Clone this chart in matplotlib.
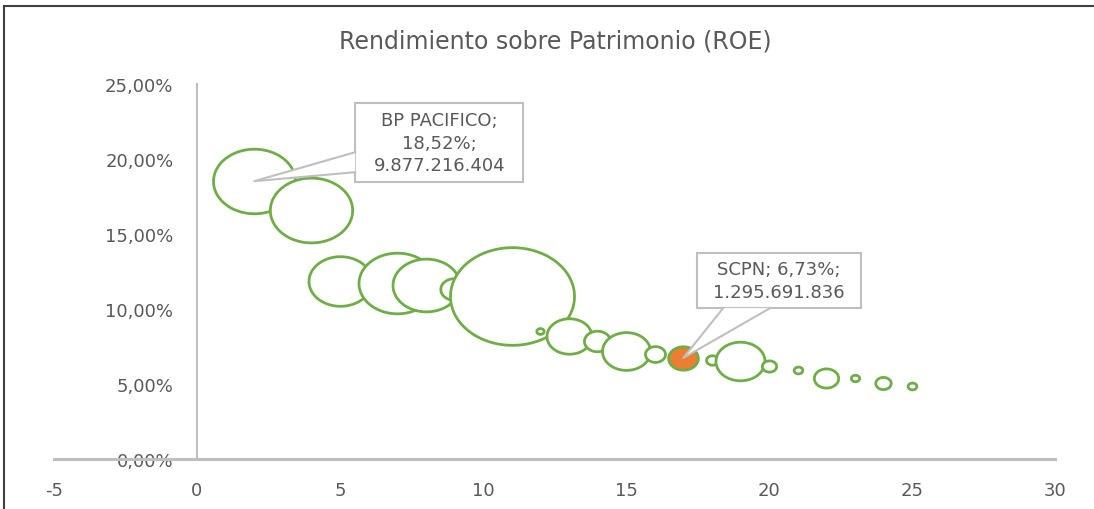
import matplotlib
matplotlib.use("Agg")
import matplotlib.pyplot as plt
import numpy as np
from matplotlib.lines import Line2D
from matplotlib.path import Path
from matplotlib.patches import Polygon, Rectangle
from matplotlib.ticker import FuncFormatter
from matplotlib.transforms import ScaledTranslation

# ranking position, ROE and equity (bubble size)
rank = [2, 4, 5, 7, 8, 9, 11, 12, 13, 14, 15, 16, 17, 18, 19, 20, 21, 22, 23, 24, 25]
roe = [0.1852, 0.1660, 0.1187, 0.1173, 0.1163, 0.1133, 0.1090, 0.0853, 0.0817, 0.0790, 0.0720,
       0.0703, 0.0673, 0.0657, 0.0653, 0.0620, 0.0593, 0.0543, 0.0543, 0.0507, 0.0490]
patrimonio = [9877216404, 9950000000, 5830000000, 8710000000, 6590000000, 1100000000, 22600000000,
              80000000, 2970000000, 1000000000, 3380000000, 590000000, 1295691836, 210000000,
              3530000000, 300000000, 110000000, 870000000, 100000000, 350000000, 110000000]
labeled = {2: "BP PACIFICO", 17: "SCPN"}
highlight = "SCPN"

GREEN = "#70AD47"
ORANGE = "#ED7D31"
TEXT = "#595959"
AXIS = "#BFBFBF"
DPI = 100

plt.rcParams["axes.unicode_minus"] = False


def fmt_pct(v):
    return f"{v * 100:.2f}%".replace(".", ",")


def fmt_int(v):
    return f"{v:,.0f}".replace(",", ".")


fig = plt.figure(figsize=(10.94, 5.10), dpi=DPI)
ax = fig.add_axes([54 / 1094, 50 / 510, 1001 / 1094, 375 / 510])

# ellipse marker (the source picture is stretched horizontally)
theta = np.linspace(0, 2 * np.pi, 120)
ellipse = Path(np.column_stack([1.27 * np.cos(theta), np.sin(theta)]))

# bubble area proportional to equity; largest reference bubble ~41 px radius
ref_r_pt = 41 * 72 / DPI
k = (2 * ref_r_pt) ** 2 / patrimonio[0]
sizes = [p * k for p in patrimonio]
faces = [ORANGE if labeled.get(r) == highlight else "white" for r in rank]

for xi, yi, si, fc in zip(rank, roe, sizes, faces):
    ax.scatter(xi, yi, s=si, marker=ellipse, facecolors=fc, edgecolors=GREEN,
               linewidths=2.0, zorder=3, clip_on=False)

# callouts: box and tail given in pixel offsets from the bubble centre
callouts = {
    2: dict(box=(101, -1, 168, 79), tail=[(101, 29), (0, 0), (101, 9)]),
    17: dict(box=(14, 50, 164, 55), tail=[(40, 50), (0, 0), (87, 50)]),
}
for xi, yi, p in zip(rank, roe, patrimonio):
    if xi not in labeled:
        continue
    name = labeled[xi]
    if xi == 2:
        txt = f"{name};\n{fmt_pct(yi)};\n{fmt_int(p)}"
    else:
        txt = f"{name}; {fmt_pct(yi)};\n{fmt_int(p)}"
    c = callouts[xi]
    trans = fig.dpi_scale_trans + ScaledTranslation(xi, yi, ax.transData)
    bx, by, bw, bh = [v / DPI for v in c["box"]]
    ax.add_patch(Rectangle((bx, by), bw, bh, transform=trans, fc="white", ec=AXIS, lw=1.5,
                           zorder=5, clip_on=False))
    tail = np.array(c["tail"], dtype=float) / DPI
    ax.add_patch(Polygon(tail, closed=True, transform=trans, fc="white", ec="none",
                         zorder=6, clip_on=False))
    ax.add_line(Line2D(tail[:, 0], tail[:, 1], transform=trans, color=AXIS, lw=1.5,
                       zorder=6, clip_on=False))
    ax.text(bx + bw / 2, by + bh / 2, txt, transform=trans, ha="center", va="center",
            fontsize=13, color=TEXT, linespacing=1.3, zorder=7)

ax.set_xlim(-5, 30)
ax.set_ylim(0, 0.25)
ax.set_xticks(np.arange(-5, 31, 5))
ax.set_yticks(np.arange(0, 0.251, 0.05))
ax.yaxis.set_major_formatter(FuncFormatter(lambda v, _: fmt_pct(v)))

for side in ["top", "right"]:
    ax.spines[side].set_visible(False)
ax.spines["left"].set_position(("data", 0))
ax.spines["left"].set_color(AXIS)
ax.spines["left"].set_linewidth(1.5)
ax.spines["bottom"].set_color(AXIS)
ax.spines["bottom"].set_linewidth(2.2)
ax.tick_params(axis="both", length=0, labelsize=13, labelcolor=TEXT)
ax.tick_params(axis="y", pad=17)
ax.tick_params(axis="x", pad=16)
ax.patch.set_alpha(0)

fig.text(555 / 1094, 1 - 42 / 510, "Rendimiento sobre Patrimonio (ROE)", ha="center", va="center",
         fontsize=17, color=TEXT)

# outer chart frame (only top and left edges visible in the crop)
fig.add_artist(Line2D([4 / 1094, 1], [1 - 7 / 510, 1 - 7 / 510], color="#404040", lw=1.5,
                      transform=fig.transFigure))
fig.add_artist(Line2D([4 / 1094, 4 / 1094], [0, 1 - 7 / 510], color="#404040", lw=1.5,
                      transform=fig.transFigure))

fig.savefig("out.png", dpi=DPI)
